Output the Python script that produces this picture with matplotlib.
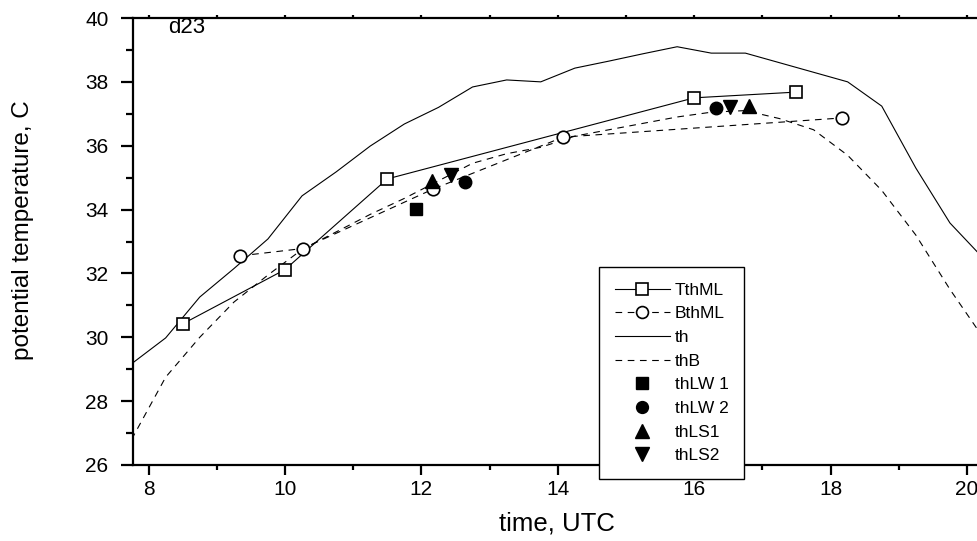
import matplotlib
matplotlib.use('Agg')
import matplotlib.pyplot as plt
from matplotlib.ticker import MultipleLocator

plt.rcParams['font.family'] = ['Liberation Sans', 'DejaVu Sans']

# ---- data ----
th_time = [7.75, 8.25, 8.75, 9.25, 9.75, 10.25, 10.75, 11.25, 11.75, 12.25, 12.75,
           13.25, 13.75, 14.25, 14.75, 15.25, 15.75, 16.25, 16.75, 17.25, 17.75,
           18.25, 18.75, 19.25, 19.75, 20.25]
th_vals = [29.17, 29.98, 31.26, 32.15, 33.08, 34.43, 35.18, 35.99, 36.68, 37.2, 37.84,
           38.06, 38.0, 38.43, 38.65, 38.88, 39.1, 38.9, 38.9, 38.6, 38.3,
           38.0, 37.24, 35.3, 33.58, 32.45]
thB_vals = [26.8, 28.75, 30.0, 31.1, 31.95, 32.75, 33.3, 33.85, 34.35, 34.9, 35.45,
            35.75, 35.95, 36.3, 36.5, 36.7, 36.9, 37.05, 37.1, 36.85, 36.5,
            35.7, 34.6, 33.2, 31.5, 29.95]

TthML_time = [8.5, 10.0, 11.5, 16.0, 17.5]
TthML_vals = [30.42, 32.12, 34.96, 37.5, 37.68]
BthML_time = [9.34, 10.26, 12.17, 14.08, 18.17]
BthML_vals = [32.55, 32.78, 34.64, 36.27, 36.87]

thLW1_time = [11.92]
thLW1_vals = [34.02]
thLW2_time = [12.64, 16.32]
thLW2_vals = [34.87, 37.18]
thLS1_time = [12.16, 16.81]
thLS1_vals = [34.9, 37.24]
thLS2_time = [12.43, 16.52]
thLS2_vals = [35.08, 37.22]

xticks = [8, 10, 12, 14, 16, 18, 20]
yticks = [26, 28, 30, 32, 34, 36, 38, 40]

# ---- figure ----
W, H = 978, 541
fig = plt.figure(figsize=(W / 100, H / 100), dpi=100)
ax_left, ax_right, ax_top, ax_bottom = 133, 1000, 18, 465
ax_w, ax_h = ax_right - ax_left, ax_bottom - ax_top
ax = fig.add_axes([ax_left / W, 1 - ax_bottom / H, ax_w / W, ax_h / H])

px_per_h = 68.2
x0 = 8 - (148.6 - ax_left) / px_per_h
x1 = x0 + ax_w / px_per_h
ax.set_xlim(x0, x1)
ax.set_ylim(26, 40)

lw = 0.8
dash = (0, (6, 5))
ax.plot(TthML_time, TthML_vals, '-', color='black', lw=lw, marker='s', ms=8.5,
        mfc='white', mec='black', mew=1.2, label='TthML', zorder=4)
ax.plot(BthML_time, BthML_vals, linestyle=dash, color='black', lw=lw, marker='o', ms=9,
        mfc='white', mec='black', mew=1.2, label='BthML', zorder=4)
ax.plot(th_time, th_vals, '-', color='black', lw=lw, label='th', zorder=3)
ax.plot(th_time, thB_vals, linestyle=dash, color='black', lw=lw, label='thB', zorder=3)
ax.plot(thLW1_time, thLW1_vals, 's', color='black', ms=9, label='thLW 1', zorder=5)
ax.plot(thLW2_time, thLW2_vals, 'o', color='black', ms=9, label='thLW 2', zorder=5)
ax.plot(thLS1_time, thLS1_vals, '^', color='black', ms=10, label='thLS1', zorder=5)
ax.plot(thLS2_time, thLS2_vals, 'v', color='black', ms=10, label='thLS2', zorder=5)

# ---- axes styling ----
for s in ['left', 'bottom', 'top', 'right']:
    ax.spines[s].set_linewidth(1.6)
ax.set_xticks(xticks)
ax.set_yticks(yticks)
ax.xaxis.set_minor_locator(MultipleLocator(1))
ax.yaxis.set_minor_locator(MultipleLocator(1))
ax.tick_params(axis='x', which='major', direction='out', length=7.5, width=1.6,
               labelsize=15, pad=3, top=True)
ax.tick_params(axis='x', which='minor', direction='out', length=3.8, width=1.6, top=True)
ax.tick_params(axis='y', which='major', direction='out', length=8.6, width=1.6,
               labelsize=15, pad=9)
ax.tick_params(axis='y', which='minor', direction='out', length=5, width=1.6)
for t in ax.xaxis.get_major_ticks() + ax.xaxis.get_minor_ticks():
    t.tick2line.set_markersize(2)

ax.set_xlabel('time, UTC', fontsize=18.5)
ax.set_ylabel('potential temperature, C', fontsize=17.5)
ax.xaxis.set_label_coords((557 - ax_left) / ax_w, (ax_bottom - 511) / ax_h)
ax.yaxis.set_label_coords((34 - ax_left) / ax_w, (ax_bottom - 230) / ax_h)

fig.text(168 / W, 1 - 17 / H, 'd23', fontsize=16, va='top', ha='left')

leg = ax.legend(loc='upper left',
                bbox_to_anchor=(599 / W, 1 - 267 / H - 0.01, 145 / W, 0.01),
                bbox_transform=fig.transFigure, borderaxespad=0, mode='expand',
                fontsize=12.5, handlelength=3.2, handletextpad=0.25,
                labelspacing=0.49, borderpad=0.9, fancybox=False,
                framealpha=1, edgecolor='black', markerscale=0.95)
leg.get_frame().set_linewidth(1.0)
leg.set_zorder(10)

fig.savefig('out.png', dpi=100)
